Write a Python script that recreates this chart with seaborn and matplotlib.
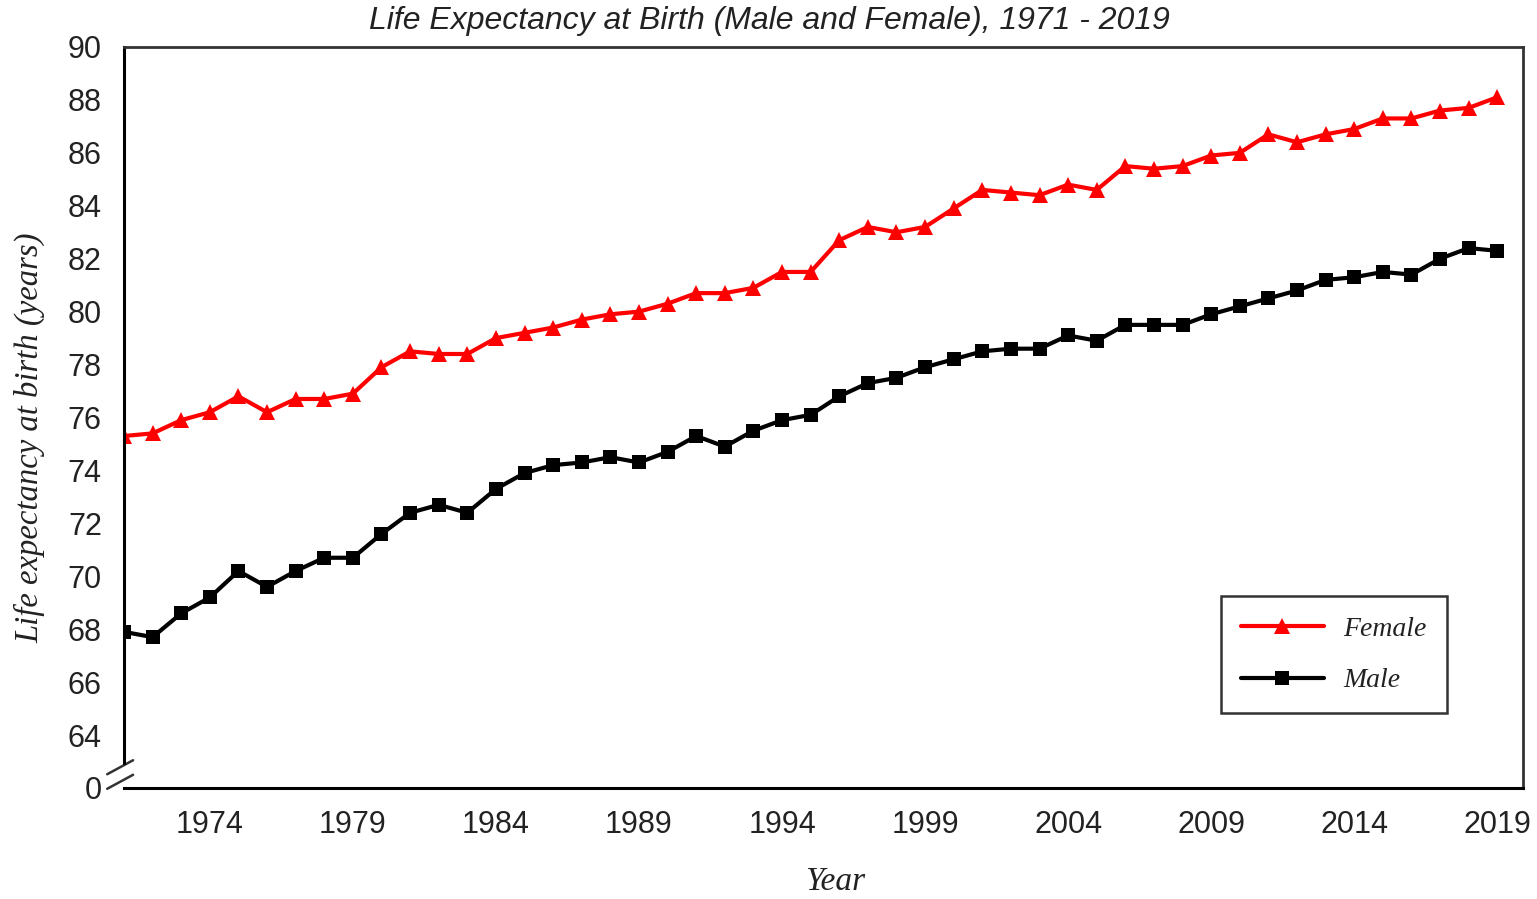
import pandas as pd
import seaborn as sns
import matplotlib.pyplot as plt
import matplotlib.transforms as mtransforms

years = list(range(1971, 2020))
female = [75.3, 75.4, 75.9, 76.2, 76.8, 76.2, 76.7, 76.7, 76.9, 77.9,
          78.5, 78.4, 78.4, 79.0, 79.2, 79.4, 79.7, 79.9, 80.0, 80.3,
          80.7, 80.7, 80.9, 81.5, 81.5, 82.7, 83.2, 83.0, 83.2, 83.9,
          84.6, 84.5, 84.4, 84.8, 84.6, 85.5, 85.4, 85.5, 85.9, 86.0,
          86.7, 86.4, 86.7, 86.9, 87.3, 87.3, 87.6, 87.7, 88.1]
male = [67.9, 67.7, 68.6, 69.2, 70.2, 69.6, 70.2, 70.7, 70.7, 71.6,
        72.4, 72.7, 72.4, 73.3, 73.9, 74.2, 74.3, 74.5, 74.3, 74.7,
        75.3, 74.9, 75.5, 75.9, 76.1, 76.8, 77.3, 77.5, 77.9, 78.2,
        78.5, 78.6, 78.6, 79.1, 78.9, 79.5, 79.5, 79.5, 79.9, 80.2,
        80.5, 80.8, 81.2, 81.3, 81.5, 81.4, 82.0, 82.4, 82.3]
year_labels = [1974, 1979, 1984, 1989, 1994, 1999, 2004, 2009, 2014, 2019]
y_ticks = list(range(62, 91, 2))
y_tick_labels = ['0'] + [str(v) for v in y_ticks[1:]]

df = pd.DataFrame({'year': years, 'Female': female, 'Male': male})

sns.set_style('white')
plt.rcParams['font.family'] = ['Liberation Sans', 'DejaVu Sans']

fig = plt.figure(figsize=(15.37, 8.99), dpi=100)
ax = fig.add_axes([124 / 1537, 1 - 788 / 899, (1523 - 124) / 1537, (788 - 47) / 899])

sns.lineplot(data=df, x='year', y='Female', ax=ax, color='#ff0000', marker='^',
             markersize=11.5, markeredgewidth=0, linewidth=3, label='Female')
sns.lineplot(data=df, x='year', y='Male', ax=ax, color='black', marker='s',
             markersize=10.5, markeredgewidth=0, linewidth=3, label='Male')

ax.set_xlim(1971, 2019.9)
ax.set_ylim(62, 90)
ax.set_xticks(year_labels)
ax.set_xticks(years, minor=True)
ax.set_xticklabels([str(y) for y in year_labels])
ax.set_yticks(y_ticks)
ax.set_yticklabels(y_tick_labels)
ax.tick_params(axis='both', which='both', direction='in', length=8, width=2,
               labelsize=22, labelcolor='#222222', color='black')
ax.tick_params(axis='x', which='both', pad=16)
ax.tick_params(axis='y', pad=16)

for side in ['top', 'right']:
    ax.spines[side].set_color('#333333')
    ax.spines[side].set_linewidth(2)
for side in ['left', 'bottom']:
    ax.spines[side].set_color('black')
    ax.spines[side].set_linewidth(2.2)
ax.spines['left'].set_bounds(62.95, 90)

# axis break marks
trans = mtransforms.blended_transform_factory(ax.transAxes, ax.transData)
ax.plot([-0.012, 0.0065], [62.52, 63.05], color='#333333', lw=1.8, transform=trans, clip_on=False)
ax.plot([-0.012, 0.0065], [61.97, 62.5], color='#333333', lw=1.8, transform=trans, clip_on=False)

ax.set_xlabel('')
ax.set_ylabel('')
fig.text(835 / 1537, 1 - 882 / 899, 'Year', family='Liberation Serif', style='italic',
         fontsize=24, color='#222222', ha='center', va='center')
fig.text(30 / 1537, 1 - 438 / 899, 'Life expectancy at birth (years)', family='Liberation Serif',
         style='italic', fontsize=23.5, color='#222222', ha='center', va='center', rotation=90)
fig.text(769 / 1537, 1 - 21 / 899, 'Life Expectancy at Birth (Male and Female), 1971 - 2019',
         style='italic', fontsize=23, color='#222222', ha='center', va='center')

leg = ax.legend(loc='upper left', bbox_to_anchor=(0.784, 0.259), frameon=True, fancybox=False,
                prop={'family': 'Liberation Serif', 'style': 'italic', 'size': 20},
                handlelength=3.0, handletextpad=0.7, labelspacing=0.95, borderpad=0.72,
                borderaxespad=0)
leg.get_frame().set_edgecolor('black')
leg.get_frame().set_linewidth(1.8)
for t in leg.get_texts():
    t.set_color('#222222')

fig.savefig('out.png', dpi=100)
